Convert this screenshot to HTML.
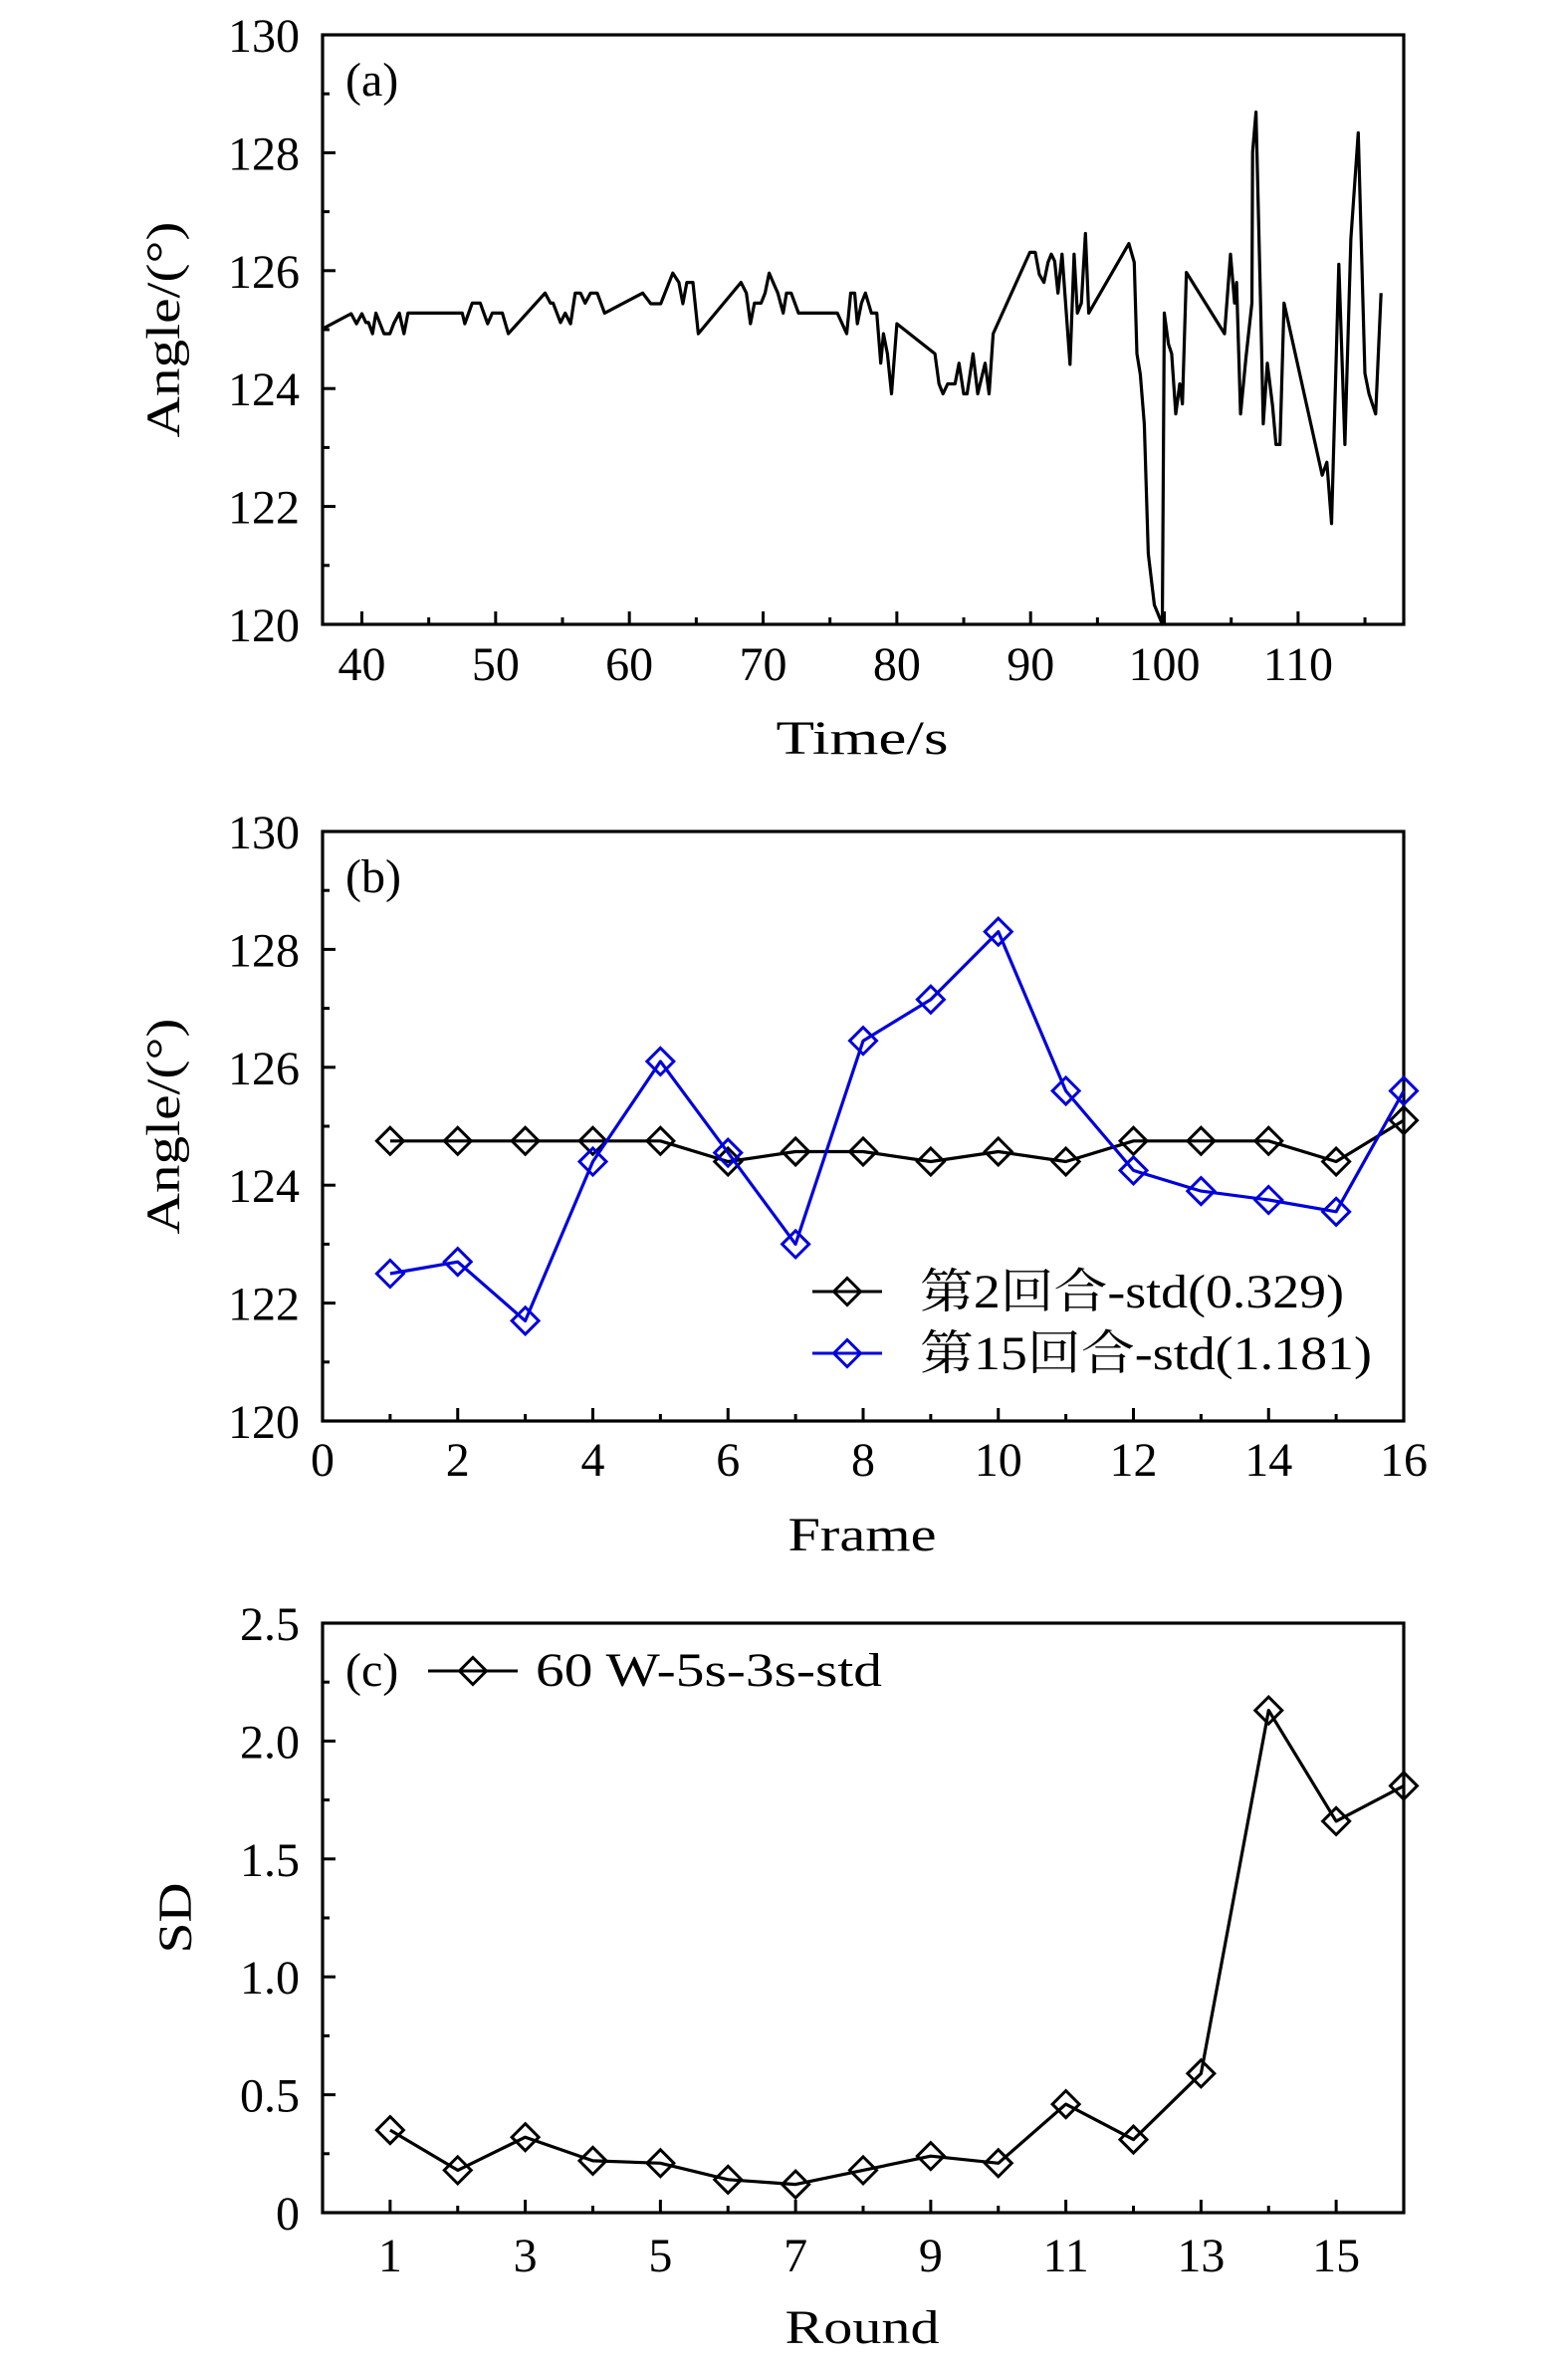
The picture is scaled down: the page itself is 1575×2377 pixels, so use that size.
<!DOCTYPE html>
<html><head><meta charset="utf-8">
<style>
html,body{margin:0;padding:0;background:#fff;}
svg text{font-family:"Liberation Serif","Noto Serif CJK SC",serif;fill:#000;}
</style></head>
<body>
<svg id="fig" width="1575" height="2372" viewBox="0 0 1575 2372" xmlns="http://www.w3.org/2000/svg"></svg>
<script>
// Panel (a) data
const aTime=[37.2,39.2,39.6,40,40.3,40.5,40.8,41.05,41.65,42.1,42.4,42.8,43.15,43.45,47.5,47.7,48.25,48.85,49.4,49.75,50.5,50.95,53.7,54.1,54.3,54.85,55.2,55.6,55.95,56.35,56.7,57.1,57.6,58.15,61.0,61.6,62.35,63.25,63.7,64.0,64.3,64.75,65.15,68.35,68.75,69.05,69.35,69.85,70.15,70.45,70.75,71.1,71.5,71.75,72.1,72.65,75.55,76.25,76.55,76.85,77.05,77.35,77.65,78.1,78.5,78.8,79.0,79.3,79.6,80.0,82.85,83.15,83.45,83.8,84.35,84.65,85.0,85.25,85.7,86.05,86.6,86.9,87.2,89.95,90.35,90.65,91.0,91.3,91.55,91.8,92.05,92.35,92.95,93.25,93.5,93.8,94.1,94.35,97.35,97.75,97.95,98.2,98.5,98.8,99.25,99.85,100.0,100.3,100.55,100.85,101.15,101.35,101.65,104.5,104.95,105.25,105.4,105.7,106.1,106.55,106.6,106.85,107.2,107.4,107.7,108.1,108.35,108.65,108.95,111.8,112.15,112.5,113.05,113.5,113.95,114.5,115.0,115.3,115.8,116.2];
const aAngle=[125.03,125.27,125.1,125.27,125.12,125.12,124.93,125.28,124.93,124.93,125.11,125.28,124.93,125.28,125.28,125.1,125.45,125.45,125.1,125.28,125.28,124.93,125.62,125.45,125.45,125.12,125.28,125.1,125.62,125.62,125.45,125.62,125.62,125.28,125.62,125.44,125.44,125.96,125.8,125.44,125.8,125.8,124.93,125.8,125.62,125.1,125.45,125.45,125.62,125.96,125.8,125.62,125.28,125.62,125.62,125.28,125.28,124.93,125.62,125.62,125.1,125.45,125.62,125.28,125.28,124.43,124.93,124.59,123.91,125.1,124.59,124.08,123.91,124.08,124.08,124.43,123.91,123.91,124.59,123.91,124.43,123.91,124.93,126.31,126.31,125.94,125.8,126.14,126.28,126.16,125.62,126.28,124.41,126.28,125.28,125.45,126.63,125.28,126.46,126.14,124.59,124.24,123.4,121.2,120.33,120.0,125.28,124.76,124.59,123.57,124.08,123.74,125.97,124.93,126.28,125.45,125.8,123.57,124.52,125.45,128.01,128.69,125.38,123.4,124.43,123.7,123.05,123.05,125.45,122.53,122.75,121.71,126.11,123.05,126.54,128.34,124.26,123.91,123.57,125.62];
const aXTicks=[40,50,60,70,80,90,100,110];
const angleTicks=[120,122,124,126,128,130];
// Panel (b) data
const frames=[1,2,3,4,5,6,7,8,9,10,11,12,13,14,15,16];
const round2=[124.75,124.75,124.75,124.75,124.75,124.4,124.57,124.57,124.4,124.57,124.4,124.75,124.75,124.75,124.4,125.1];
const round15=[122.5,122.7,121.7,124.4,126.1,124.55,123.0,126.45,127.15,128.3,125.6,124.25,123.9,123.75,123.55,125.6];
const bXTicks=[0,2,4,6,8,10,12,14,16];
// Panel (c) data
const rounds=[1,2,3,4,5,6,7,8,9,10,11,12,13,14,15,16];
const sdValues=[0.35,0.18,0.32,0.22,0.21,0.14,0.12,0.18,0.24,0.21,0.46,0.31,0.59,2.13,1.66,1.81];
const cXTicks=[1,3,5,7,9,11,13,15];
const sdTicks=[0,0.5,1.0,1.5,2.0,2.5];
const sdTickLabels=["0","0.5","1.0","1.5","2.0","2.5"];

const NS="http://www.w3.org/2000/svg";
const svg=document.getElementById('fig');
function mk(tag,attrs,parent){const e=document.createElementNS(NS,tag);for(const k in attrs)e.setAttribute(k,attrs[k]);(parent||svg).appendChild(e);return e;}
const L=324,R=1410,FS=48;
function scale(d0,d1,r0,r1){return v=>r0+(v-d0)/(d1-d0)*(r1-r0);}

function panel(name,top,bottom,xmin,xmax,ymin,ymax){
  const g=mk('g',{});
  
  
  const fr=mk('rect',{x:L,y:top,width:R-L,height:bottom-top,fill:'none',stroke:'#000','stroke-width':3.2},g);
  
  
  return {g,x:scale(xmin,xmax,L,R),y:scale(ymin,ymax,bottom,top),top,bottom};
}
function tick(g,x1,y1,x2,y2){mk('line',{x1,y1,x2,y2,stroke:'#000','stroke-width':3},g);}
function text(g,x,y,s,anchor,name,extra){const t=mk('text',Object.assign({x,y,'font-size':FS,'text-anchor':anchor||'middle'},extra||{}),g);t.textContent=s;return t;}
function diamond(g,cx,cy,col,name){const h=13.5;const p=mk('polygon',{points:`${cx},${cy-h} ${cx+h},${cy} ${cx},${cy+h} ${cx-h},${cy}`,fill:'none',stroke:col,'stroke-width':3},g);}
function line(g,xs,ys,P,col,name){const pts=xs.map((v,i)=>P.x(v).toFixed(1)+','+P.y(ys[i]).toFixed(1)).join(' ');const pl=mk('polyline',{points:pts,fill:'none',stroke:col,'stroke-width':3.2,'stroke-linejoin':'round'},g);}
const SP={lengthAdjust:'spacingAndGlyphs'};

// ---- Panel a
const A=panel('panel-a',35,627,37.06,117.9,120,130);
aXTicks.forEach(v=>{tick(A.g,A.x(v),A.bottom,A.x(v),A.bottom-13);text(A.g,A.x(v),683,String(v),'middle','x-tick-label');});
for(let v=45;v<=115;v+=10)tick(A.g,A.x(v),A.bottom,A.x(v),A.bottom-7);
angleTicks.forEach(v=>{tick(A.g,L,A.y(v),L+13,A.y(v));text(A.g,301,A.y(v)+17,String(v),'end','y-tick-label');});
for(let v=121;v<130;v+=2)tick(A.g,L,A.y(v),L+7,A.y(v));
line(A.g,aTime,aAngle,A,'#000','angle-series');
text(A.g,347,96,'(a)','start','panel-label');
text(A.g,866,757,'Time/s','middle','x-axis-title',Object.assign({textLength:173},SP));
text(A.g,0,0,'Angle/(°)','middle','y-axis-title',Object.assign({transform:`translate(180,${(35+627)/2}) rotate(-90)`,textLength:217},SP));

// ---- Panel b
const B=panel('panel-b',835,1427,0,16,120,130);
bXTicks.forEach(v=>{tick(B.g,B.x(v),B.bottom,B.x(v),B.bottom-13);text(B.g,B.x(v),1482,String(v),'middle','x-tick-label');});
for(let v=1;v<16;v+=2)tick(B.g,B.x(v),B.bottom,B.x(v),B.bottom-7);
angleTicks.forEach(v=>{tick(B.g,L,B.y(v),L+13,B.y(v));text(B.g,301,B.y(v)+17,String(v),'end','y-tick-label');});
for(let v=121;v<130;v+=2)tick(B.g,L,B.y(v),L+7,B.y(v));
line(B.g,frames,round2,B,'#000','round2-line');
frames.forEach((f,i)=>diamond(B.g,B.x(f),B.y(round2[i]),'#000','round2-marker'));
line(B.g,frames,round15,B,'#0000dd','round15-line');
frames.forEach((f,i)=>diamond(B.g,B.x(f),B.y(round15[i]),'#0000dd','round15-marker'));
const lg=mk('g',{},B.g);


tick(lg,816,1297,886,1297);diamond(lg,851,1297,'#000','legend-marker');
mk('line',{x1:816,y1:1359,x2:886,y2:1359,stroke:'#0000dd','stroke-width':3},lg);diamond(lg,851,1359,'#0000dd','legend-marker');
text(lg,924,1313,'第2回合-std(0.329)','start','legend-entry-round2',Object.assign({textLength:426},SP));
text(lg,924,1375,'第15回合-std(1.181)','start','legend-entry-round15',Object.assign({textLength:454},SP));
text(B.g,347,896,'(b)','start','panel-label');
text(B.g,866,1557,'Frame','middle','x-axis-title',Object.assign({textLength:149},SP));
text(B.g,0,0,'Angle/(°)','middle','y-axis-title',Object.assign({transform:`translate(180,${(835+1427)/2}) rotate(-90)`,textLength:217},SP));

// ---- Panel c
const C=panel('panel-c',1630,2222,0,16,0,2.5);
for(let v=1;v<=16;v++){const major=v%2===1;tick(C.g,C.x(v),C.bottom,C.x(v),C.bottom-(major?13:7));}
cXTicks.forEach(v=>text(C.g,C.x(v),2281,String(v),'middle','x-tick-label'));
sdTicks.forEach((v,i)=>{tick(C.g,L,C.y(v),L+13,C.y(v));text(C.g,301,C.y(v)+17,sdTickLabels[i],'end','y-tick-label');});
for(let v=0.25;v<2.5;v+=0.5)tick(C.g,L,C.y(v),L+7,C.y(v));
line(C.g,rounds,sdValues,C,'#000','sd-line');
rounds.forEach((r,i)=>diamond(C.g,C.x(r),C.y(sdValues[i]),'#000','sd-marker'));
text(C.g,347,1693,'(c)','start','panel-label');
tick(C.g,430,1678,520,1678);diamond(C.g,475,1678,'#000','legend-marker');
text(C.g,538,1693,'60 W-5s-3s-std','start','legend-entry',Object.assign({textLength:348},SP));
text(C.g,866,2353,'Round','middle','x-axis-title',Object.assign({textLength:155},SP));
text(C.g,0,0,'SD','middle','y-axis-title',Object.assign({transform:`translate(192,${(1630+2222)/2}) rotate(-90)`,textLength:71},SP));
</script>
</body></html>
